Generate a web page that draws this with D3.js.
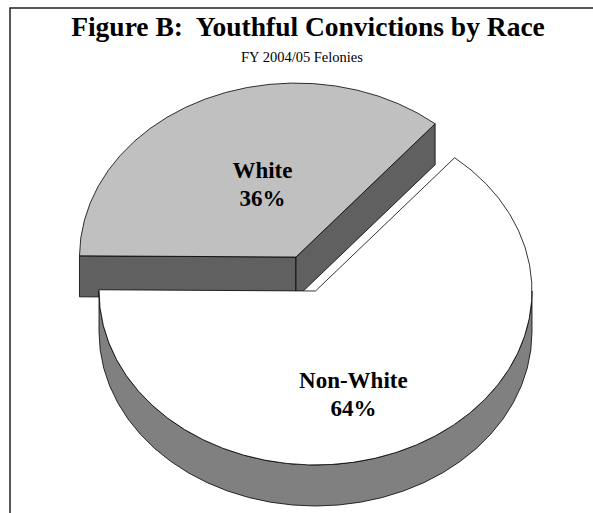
<!DOCTYPE html>
<html>
<head>
<meta charset="utf-8">
<script src="https://cdn.jsdelivr.net/npm/d3@7"></script>
<style>
  html, body { margin: 0; padding: 0; background: #fff; }
  svg { display: block; }
  text { font-family: "Liberation Serif", "Times New Roman", serif; }
</style>
</head>
<body>
<svg id="chart"></svg>
<script>
// chart data
const categories = ["Non-White", "White"];
const values = [64, 36];
const topColors = ["#ffffff", "#c0c0c0"];
const sideColors = ["#808080", "#606060"];
const title = "Figure B:  Youthful Convictions by Race";
const subtitle = "FY 2004/05 Felonies";

const width = 593, height = 513;
const svg = d3.select("#chart").attr("width", width).attr("height", height);

// frame (cropped box: only top and left edges show)
svg.append("path")
  .attr("d", `M10,${height} L10,8 L${width},8`)
  .attr("fill", "none").attr("stroke", "#222").attr("stroke-width", 1.5);

svg.append("text")
  .attr("x", 308).attr("y", 36)
  .attr("text-anchor", "middle")
  .attr("font-size", 27.5).attr("font-weight", "bold")
  .attr("xml:space", "preserve")
  .text(title);

svg.append("text")
  .attr("x", 302).attr("y", 62)
  .attr("text-anchor", "middle")
  .attr("font-size", 14.5)
  .text(subtitle);

// pie geometry: unit circle projected onto a tilted ellipse
const cx = 315.5, cy = 291, rx = 216.5, ry = 174, depth = 41;
const x = d3.scaleLinear().domain([-1, 1]).range([cx - rx, cx + rx]);
const y = d3.scaleLinear().domain([-1, 1]).range([cy + ry, cy - ry]);

const start = 40 * Math.PI / 180;
const pie = d3.pie().sort(null).startAngle(start).endAngle(start + 2 * Math.PI);
const arcs = pie(values);

const explode = [0, 0.215];

function pt(a, r, off, dz) {
  return [x(off[0] + r * Math.sin(a)), y(off[1] + r * Math.cos(a)) + (dz || 0)];
}
function arcPts(a0, a1, off, dz) {
  const n = Math.max(2, Math.ceil(Math.abs(a1 - a0) / (6 * Math.PI / 180)));
  return d3.range(n + 1).map(i => pt(a0 + (a1 - a0) * i / n, 1, off, dz));
}
const line = d3.line().curve(d3.curveLinearClosed);

const slices = arcs.map((d, i) => {
  const mid = (d.startAngle + d.endAngle) / 2;
  const off = [explode[i] * Math.sin(mid), explode[i] * Math.cos(mid)];
  return { d, i, off, mid };
});

function drawSlice(s) {
  const { d, i, off } = s;
  const g = svg.append("g");
  const c0 = pt(0, 0, off, 0), c1 = pt(0, 0, off, depth);
  // radial faces, visible when their outward normal faces the viewer
  [[d.startAngle, -1], [d.endAngle, 1]].forEach(([a, sgn]) => {
    const normal = a + sgn * Math.PI / 2;
    if (Math.cos(normal) < -1e-6) {
      const p0 = pt(a, 1, off, 0), p1 = pt(a, 1, off, depth);
      g.append("path")
        .attr("d", line([c0, p0, p1, c1]))
        .attr("fill", sideColors[i]).attr("stroke", "#000").attr("stroke-width", 0.8)
        .attr("stroke-linejoin", "round");
    }
  });
  // outer curved side, front half only (90deg..270deg)
  const lo = Math.PI / 2, hi = 3 * Math.PI / 2;
  const segs = [];
  for (let k = -1; k <= 1; k++) {
    const a0 = Math.max(d.startAngle, lo + k * 2 * Math.PI);
    const a1 = Math.min(d.endAngle, hi + k * 2 * Math.PI);
    if (a1 > a0) segs.push([a0, a1]);
  }
  segs.forEach(([a0, a1]) => {
    const top = arcPts(a0, a1, off, 0);
    const bot = arcPts(a0, a1, off, depth).reverse();
    g.append("path")
      .attr("d", line(top.concat(bot)))
      .attr("fill", sideColors[i]).attr("stroke", "#000").attr("stroke-width", 0.8)
      .attr("stroke-linejoin", "round");
  });
  // top surface
  g.append("path")
    .attr("d", line([c0].concat(arcPts(d.startAngle, d.endAngle, off, 0))))
    .attr("fill", topColors[i]).attr("stroke", "#000").attr("stroke-width", 0.8)
    .attr("stroke-linejoin", "round");
}

// back slice first, front slice over it
drawSlice(slices[1]);
drawSlice(slices[0]);

// labels
const labelPos = [[0.175, -0.58], [-0.155, 0.43]];
slices.forEach(s => {
  const [lx, ly] = [x(s.off[0] + labelPos[s.i][0]), y(s.off[1] + labelPos[s.i][1])];
  const t = svg.append("text")
    .attr("text-anchor", "middle")
    .attr("font-size", 23).attr("font-weight", "bold");
  t.append("tspan").attr("x", lx).attr("y", ly - 4).text(categories[s.i]);
  t.append("tspan").attr("x", lx).attr("y", ly + 24).text(values[s.i] + "%");
});
</script>
</body>
</html>
